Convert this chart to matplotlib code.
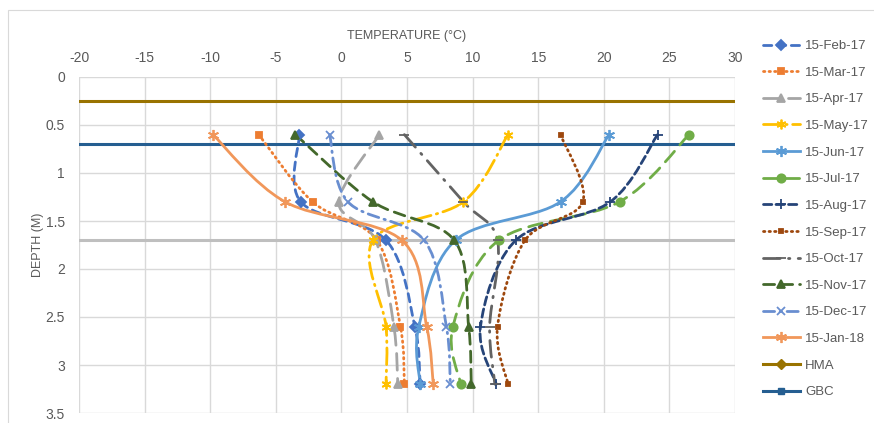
import numpy as np
import matplotlib
matplotlib.use("Agg")
from matplotlib import pyplot as plt
from matplotlib.path import Path
from matplotlib.patches import PathPatch, Rectangle
from matplotlib.lines import Line2D

plt.rcParams['font.family'] = ['Liberation Sans', 'DejaVu Sans']
plt.rcParams['axes.unicode_minus'] = False

# sensor depths (m) and monthly temperature profiles (deg C)
depths = [0.6, 1.3, 1.7, 2.6, 3.2]

feb17 = [-3.2, -3.1, 3.4, 5.6, 6.0]
mar17 = [-6.3, -2.2, 2.7, 4.5, 4.8]
apr17 = [2.9, -0.2, 2.6, 4.0, 4.3]
may17 = [12.7, 9.3, 2.4, 3.4, 3.4]
jun17 = [20.4, 16.7, 8.7, 5.9, 6.0]
jul17 = [26.5, 21.2, 12.0, 8.5, 9.1]
aug17 = [24.1, 20.5, 13.3, 10.6, 11.8]
sep17 = [16.7, 18.4, 14.0, 11.9, 12.7]
oct17 = [4.8, 9.3, 11.9, 11.3, 11.7]
nov17 = [-3.5, 2.4, 8.6, 9.7, 9.9]
dec17 = [-0.9, 0.5, 6.3, 8.0, 8.3]
jan18 = [-9.8, -4.3, 4.6, 6.5, 7.0]

labels = ['15-Feb-17', '15-Mar-17', '15-Apr-17', '15-May-17', '15-Jun-17', '15-Jul-17',
          '15-Aug-17', '15-Sep-17', '15-Oct-17', '15-Nov-17', '15-Dec-17', '15-Jan-18']
profiles = [feb17, mar17, apr17, may17, jun17, jul17,
            aug17, sep17, oct17, nov17, dec17, jan18]

# layer boundaries (m)
hma_depth = 0.25
gbc_depth = 0.7
subgrade_depth = 1.7

asterisk = (6, 2, 0)
styles = [
    ('#4472C4', (0, (3, 2)), 'D', 5),
    ('#ED7D31', (0, (0.5, 1.5)), 's', 5),
    ('#A5A5A5', (0, (6, 3)), '^', 6),
    ('#FFC000', (0, (6, 2, 0.5, 2)), asterisk, 7),
    ('#5B9BD5', '-', asterisk, 8),
    ('#70AD47', (0, (5, 3)), 'o', 6),
    ('#264478', (0, (3, 1.5)), '+', 7),
    ('#9E480E', (0, (0.5, 1.5)), 's', 3),
    ('#636363', (0, (6, 3, 0.5, 3)), '_', 7),
    ('#43682B', (0, (4, 2.5)), '^', 6),
    ('#698ED0', (0, (4, 2, 0.5, 2)), 'x', 6),
    ('#F1975A', '-', asterisk, 8),
]

text_color = '#595959'


def smooth_path(xs, ys):
    # cubic bezier segments through the points (catmull-rom control points)
    pts = np.column_stack([xs, ys]).astype(float)
    ext = np.vstack([pts[0], pts, pts[-1]])
    verts = [pts[0]]
    codes = [Path.MOVETO]
    for i in range(len(pts) - 1):
        p0, p1, p2, p3 = ext[i], ext[i + 1], ext[i + 2], ext[i + 3]
        verts += [p1 + (p2 - p0) / 6, p2 - (p3 - p1) / 6, p2]
        codes += [Path.CURVE4] * 3
    return Path(verts, codes)


fig = plt.figure(figsize=(8.74, 4.23), dpi=100)
fig.patches.append(Rectangle((8 / 874, -0.1), 1.2, 1 - 10 / 423 + 0.1, transform=fig.transFigure,
                             fill=False, edgecolor='#D9D9D9', lw=0.8))
ax = fig.add_axes([79 / 874, 1 - 413 / 423, 656 / 874, 336 / 423])

handles = []
for lab, temps, (col, ls, mk, ms) in zip(labels, profiles, styles):
    patch = PathPatch(smooth_path(temps, depths), fill=False, edgecolor=col, lw=2,
                      linestyle=ls, capstyle='round', zorder=3)
    ax.add_patch(patch)
    ax.plot(temps, depths, linestyle='none', marker=mk, markersize=ms, color=col,
            markeredgewidth=1.3, zorder=4)
    handles.append(Line2D([], [], color=col, lw=2, linestyle=ls, marker=mk, markersize=ms,
                          markeredgewidth=1.3, dash_capstyle='round'))

ax.axhline(hma_depth, color='#997300', lw=2.2, zorder=2)
ax.axhline(gbc_depth, color='#255E91', lw=2.2, zorder=2)
ax.axhline(subgrade_depth, color='#BFBFBF', lw=2.2, zorder=2)
handles.append(Line2D([], [], color='#997300', lw=2.2, marker='D', markersize=5))
handles.append(Line2D([], [], color='#255E91', lw=2.2, marker='s', markersize=5))
labels_all = labels + ['HMA', 'GBC']

ax.set_xlim(-20, 30)
ax.set_ylim(3.5, 0)
ax.set_xticks(np.arange(-20, 31, 5))
ax.set_yticks(np.arange(0, 3.6, 0.5))
ax.set_yticklabels(['0', '0.5', '1', '1.5', '2', '2.5', '3', '3.5'])
ax.xaxis.tick_top()
ax.xaxis.set_label_position('top')
ax.tick_params(length=0, labelsize=10, labelcolor=text_color)
ax.tick_params(axis='x', pad=9)
ax.tick_params(axis='y', pad=10)
ax.grid(True, color='#D9D9D9', lw=1)
ax.set_axisbelow(True)
for s in ax.spines.values():
    s.set_visible(False)

ax.set_xlabel('TEMPERATURE (°C)', fontsize=9, color=text_color, labelpad=8)
ax.set_ylabel('DEPTH (M)', fontsize=9, color=text_color, labelpad=1)

fig.legend(handles, labels_all, loc='upper left', bbox_to_anchor=(763 / 874, 1 - 40 / 423),
           frameon=False, fontsize=9.5, labelcolor=text_color, handlelength=2.8,
           handletextpad=0.4, labelspacing=1.09, borderaxespad=0, borderpad=0)

fig.savefig('out.png', dpi=100)
